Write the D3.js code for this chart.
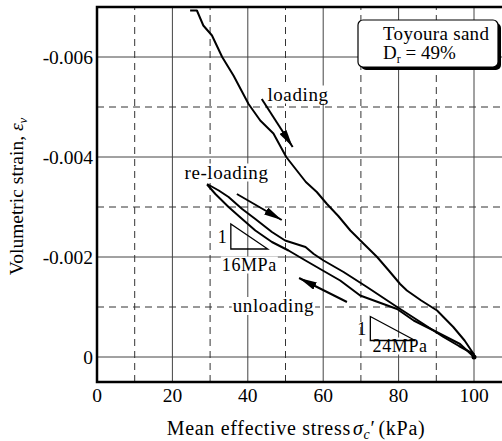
<!DOCTYPE html>
<html>
<head>
<meta charset="utf-8">
<script src="https://cdn.jsdelivr.net/npm/d3@7"></script>
<style>
  body { margin: 0; background: #fff; }
  svg { display: block; font-family: "Liberation Serif", "Times New Roman", serif; }
</style>
</head>
<body>
<div id="app"></div>
<script>
// axis ticks
const xTicks = [0, 20, 40, 60, 80, 100]
const xDashed = [10, 30, 50, 70, 90]
const yTicks = [0, -0.002, -0.004, -0.006]
const yTickLabels = ['0', '-0.002', '-0.004', '-0.006']
const yDashed = [-0.001, -0.003, -0.005]

// loading curve (kPa, strain)
const loadStress = [24.7, 26.5, 28.2, 30.5, 33.2, 36.2, 40.2, 43.3, 46.8, 50.2, 53.0, 55.4, 58.3, 61.0, 64.0, 67.2, 70.8, 74.3, 77.5, 80.4, 82.2, 86.0, 90.2, 94.5, 97.5, 99.9, 100]
const loadStrain = [-0.00693, -0.00693, -0.00663, -0.00643, -0.00600, -0.00563, -0.00506, -0.00473, -0.00447, -0.00400, -0.00373, -0.00350, -0.00330, -0.00306, -0.00282, -0.00253, -0.00226, -0.00200, -0.00172, -0.00146, -0.00133, -0.00113, -0.00093, -0.00060, -0.00033, -0.00006, 0]

// re-loading curve (upper branch of the loop)
const reloadStress = [29.2, 32.3, 34.9, 38.5, 42.0, 46.4, 49.9, 55.3, 57.5, 60.1, 65.4, 71.6, 79.6, 86.6, 91.9, 96.0, 99.9, 100]
const reloadStrain = [-0.00346, -0.00333, -0.00320, -0.00296, -0.00276, -0.00250, -0.00233, -0.00220, -0.00206, -0.00193, -0.00170, -0.00140, -0.00100, -0.00066, -0.00040, -0.00022, -0.00006, 0]

// unloading curve (lower branch of the loop)
const unloadStress = [100, 96.3, 89.3, 84.0, 79.6, 74.5, 69.8, 64.5, 59.2, 55.3, 50.8, 46.4, 42.0, 38.5, 34.9, 31.4, 29.2]
const unloadStrain = [0, -0.00026, -0.00053, -0.00073, -0.00096, -0.00110, -0.00123, -0.00153, -0.00176, -0.00193, -0.00213, -0.00230, -0.00253, -0.00276, -0.00300, -0.00326, -0.00345]

// slope triangles: [x0, x1, strainTop, strainBottom]
const tri16 = [35.5, 45.3, -0.00266, -0.00216]
const tri24 = [72.5, 84.4, -0.00081, -0.00033]

// arrows: [x0, e0, x1, e1]
const arrowLoading = [43.7, -0.00516, 51.9, -0.00420]
const arrowReloading = [37.1, -0.00326, 49.0, -0.00274]
const arrowUnloading = [66.3, -0.00110, 53.6, -0.00158]

const W = 502, H = 441
const margin = { left: 97, top: 7, bottom: 59 }

const svg = d3.select('#app').append('svg')
    .attr('width', W).attr('height', H)

const x = d3.scaleLinear().domain([0, 108]).range([margin.left, margin.left + 108 * 3.77])
const y = d3.scaleLinear().domain([0.0005, -0.007]).range([H - margin.bottom, margin.top])

const defs = svg.append('defs')
defs.append('clipPath').attr('id', 'clip')
    .append('rect').attr('x', x(0)).attr('y', y(-0.007)).attr('width', x(108) - x(0)).attr('height', y(0.0005) - y(-0.007))
defs.append('marker').attr('id', 'head')
    .attr('viewBox', '0 0 18 8').attr('refX', 18).attr('refY', 4)
    .attr('markerWidth', 18).attr('markerHeight', 8).attr('markerUnits', 'userSpaceOnUse')
    .attr('orient', 'auto')
    .append('path').attr('d', 'M0,0 L18,4 L0,8 Z').attr('fill', '#000')

const grid = svg.append('g').attr('clip-path', 'url(#clip)')
grid.selectAll('line.xs').data(xTicks).enter().append('line')
    .attr('x1', d => x(d)).attr('x2', d => x(d)).attr('y1', y(0.0005)).attr('y2', y(-0.007))
    .attr('stroke', '#444').attr('stroke-width', 1)
grid.selectAll('line.ys').data(yTicks).enter().append('line')
    .attr('y1', d => y(d)).attr('y2', d => y(d)).attr('x1', x(0)).attr('x2', x(108))
    .attr('stroke', '#444').attr('stroke-width', 1)
grid.selectAll('line.xd').data(xDashed).enter().append('line')
    .attr('x1', d => x(d)).attr('x2', d => x(d)).attr('y1', y(0.0005)).attr('y2', y(-0.007))
    .attr('stroke', '#333').attr('stroke-width', 1).attr('stroke-dasharray', '7,5')
grid.selectAll('line.yd').data(yDashed).enter().append('line')
    .attr('y1', d => y(d)).attr('y2', d => y(d)).attr('x1', x(0)).attr('x2', x(108))
    .attr('stroke', '#333').attr('stroke-width', 1).attr('stroke-dasharray', '7,5')

// labels with white backing
function label(g, text, xv, ev, size, anchor) {
    const t = g.append('text').attr('x', x(xv)).attr('y', y(ev))
        .attr('font-size', size).attr('letter-spacing', 0.6)
        .attr('text-anchor', anchor || 'start').text(text)
    const b = t.node().getBBox()
    g.insert('rect', 'text').attr('x', b.x - 1).attr('y', b.y + 2).attr('width', b.width + 2).attr('height', b.height - 3)
        .attr('fill', '#fff')
    return t
}
const ann = svg.append('g')
label(ann, 'loading', 45.2, -0.00513, 19)
label(ann, 're-loading', 23.2, -0.00357, 19)
label(ann, 'unloading', 36.0, -0.00090, 19)
label(ann, '16MPa', 40.4, -0.00173, 18, 'middle')
label(ann, '24MPa', 80.4, -0.00011, 18, 'middle')
ann.append('text').attr('x', x(tri16[0]) - 4).attr('y', y((tri16[2] + tri16[3]) / 2) + 6)
    .attr('font-size', 18).attr('text-anchor', 'end').text('1')
ann.append('text').attr('x', x(tri24[0]) - 4).attr('y', y((tri24[2] + tri24[3]) / 2) + 6)
    .attr('font-size', 18).attr('text-anchor', 'end').text('1')

for (const t of [tri16, tri24]) {
    const pts = [[t[0], t[2]], [t[0], t[3]], [t[1], t[3]]]
    ann.append('path')
        .attr('d', 'M' + pts.map(p => [x(p[0]), y(p[1])].join(',')).join('L') + 'Z')
        .attr('fill', 'none').attr('stroke', '#000').attr('stroke-width', 1.3)
}

// curves
const line = d3.line().x(d => x(d[0])).y(d => y(d[1]))
const curves = [
    d3.zip(loadStress, loadStrain),
    d3.zip(reloadStress, reloadStrain),
    d3.zip(unloadStress, unloadStrain)
]
svg.append('g').selectAll('path').data(curves).enter().append('path')
    .attr('d', line).attr('fill', 'none').attr('stroke', '#000')
    .attr('stroke-width', 2).attr('stroke-linejoin', 'round')
svg.append('circle').attr('cx', x(100)).attr('cy', y(0)).attr('r', 2.5).attr('fill', '#000')

for (const a of [arrowLoading, arrowReloading, arrowUnloading]) {
    svg.append('line')
        .attr('x1', x(a[0])).attr('y1', y(a[1])).attr('x2', x(a[2])).attr('y2', y(a[3]))
        .attr('stroke', '#000').attr('stroke-width', 2).attr('marker-end', 'url(#head)')
}

// frame
svg.append('path')
    .attr('d', `M${x(108) + 5},${y(-0.007)} H${x(0)} V${y(0.0005)} H${x(108) + 5}`)
    .attr('fill', 'none').attr('stroke', '#000').attr('stroke-width', 2.5)

// tick labels
svg.append('g').selectAll('text').data(xTicks).enter().append('text')
    .attr('x', d => x(d)).attr('y', y(0.0005) + 20)
    .attr('font-size', 19.5).attr('text-anchor', 'middle').text(d => d)
svg.append('g').selectAll('text').data(yTicks).enter().append('text')
    .attr('x', x(0) - 4).attr('y', d => y(d) + 7)
    .attr('font-size', 19.5).attr('text-anchor', 'end').text((d, i) => yTickLabels[i])

// axis titles
const xt = svg.append('text').attr('x', 296).attr('y', 435).attr('font-size', 20)
    .attr('letter-spacing', 0.7).attr('text-anchor', 'middle')
xt.append('tspan').text('Mean effective stress')
xt.append('tspan').attr('font-style', 'italic').attr('dx', 2).text('σ')
xt.append('tspan').attr('font-style', 'italic').attr('font-size', 14).attr('dy', 4).text('c')
xt.append('tspan').attr('dy', -4).text('′')
xt.append('tspan').attr('dx', 3).text('(kPa)')

const yt = svg.append('text').attr('transform', `translate(23,${(y(0.0005) + y(-0.007)) / 2 + 2}) rotate(-90)`)
    .attr('font-size', 19.5).attr('text-anchor', 'middle')
yt.append('tspan').text('Volumetric strain, ')
yt.append('tspan').attr('font-style', 'italic').text('ε')
yt.append('tspan').attr('font-style', 'italic').attr('font-size', 13).attr('dy', 4).text('v')

// legend box
const lg = svg.append('g')
lg.append('rect').attr('x', 361).attr('y', 23).attr('width', 140).attr('height', 47).attr('rx', 5).attr('fill', '#000')
lg.append('rect').attr('x', 358).attr('y', 20).attr('width', 140).attr('height', 47).attr('rx', 5)
    .attr('fill', '#fff').attr('stroke', '#000').attr('stroke-width', 1.2)
lg.append('text').attr('x', 383).attr('y', 40).attr('font-size', 19).attr('letter-spacing', 0.3).text('Toyoura sand')
const dr = lg.append('text').attr('x', 383).attr('y', 59).attr('font-size', 19)
dr.append('tspan').text('D')
dr.append('tspan').attr('font-size', 12).attr('dy', 4).text('r')
dr.append('tspan').attr('dy', -4).text(' = 49%')
</script>
</body>
</html>
